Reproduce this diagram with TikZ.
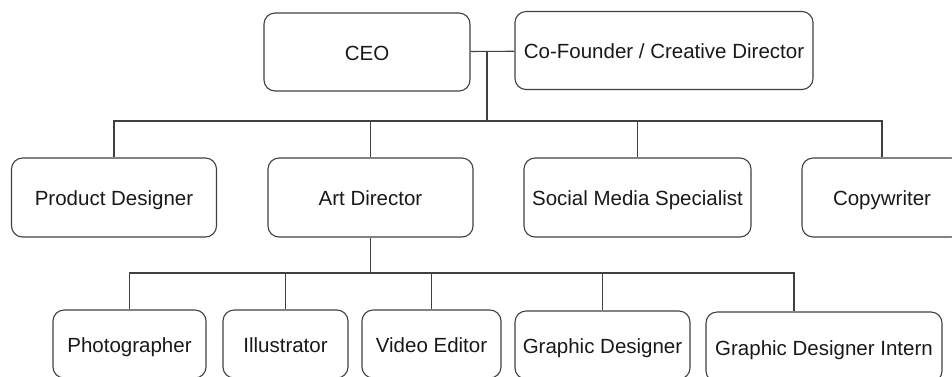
\documentclass[tikz,border=0pt]{standalone}
\usepackage{fontspec}
\setmainfont{Liberation Sans}
\usepackage{tikz}
\usetikzlibrary{positioning}

\begin{document}
\begin{tikzpicture}[x=1pt,y=-1pt,
  rolebox/.style={draw=black!75,line width=1.1pt,rounded corners=11pt,inner sep=0pt,
    minimum height=79pt,text height=16.5pt,text depth=0pt,text=black!90,
    font=\fontsize{20.5}{24}\selectfont},
  link/.style={draw=black!75,line width=1.1pt}]
\useasboundingbox (0,0) rectangle (952,376);
%\draw[help lines] (0,0) grid (952,376);
\node[rolebox,minimum width=206pt,minimum height=78pt] (ceo) at (367,52) {CEO};
\node[rolebox,minimum width=298pt,minimum height=78pt] (cofounder) at (664,50.5) {Co-Founder / Creative Director};
\node[rolebox,minimum width=205pt] (product) at (114,197.5) {Product Designer};
\node[rolebox,minimum width=205pt] (artdir) at (370.5,197.5) {Art Director};
\node[rolebox,minimum width=227pt] (social) at (637.5,197.5) {Social Media Specialist};
\node[rolebox,minimum width=160pt] (copy) at (882,197.5) {Copywriter};
\node[rolebox,minimum width=153pt,minimum height=68pt] (photo) at (129.5,344) {Photographer};
\node[rolebox,minimum width=125pt,minimum height=68pt] (illu) at (285.5,344) {Illustrator};
\node[rolebox,minimum width=139pt,minimum height=68pt] (video) at (431.5,344) {Video Editor};
\node[rolebox,minimum width=175pt,minimum height=68pt] (graphic) at (602.5,345) {Graphic Designer};
\node[rolebox,minimum width=236pt,minimum height=70pt] (intern) at (824,347) {Graphic Designer Intern};
\coordinate (top) at (487,52);
\coordinate (bus) at (487,121);
\coordinate (sub) at (370.5,273);
\coordinate (drop) at (794,273);
\draw[link] (ceo) -- (cofounder);
\draw[link] (top) -- (bus);
\draw[link] (product.north) |- (bus);
\draw[link] (copy.north) |- (bus);
\draw[link] (bus) -| (artdir.north);
\draw[link] (bus) -| (social.north);
\draw[link] (artdir) -- (sub);
\draw[link] (photo.north) |- (sub);
\draw[link] (illu.north) |- (sub);
\draw[link] (sub) -| (video.north);
\draw[link] (sub) -| (graphic.north);
\draw[link] (sub) -- (drop) -- (drop |- intern.north);
\end{tikzpicture}
\end{document}
